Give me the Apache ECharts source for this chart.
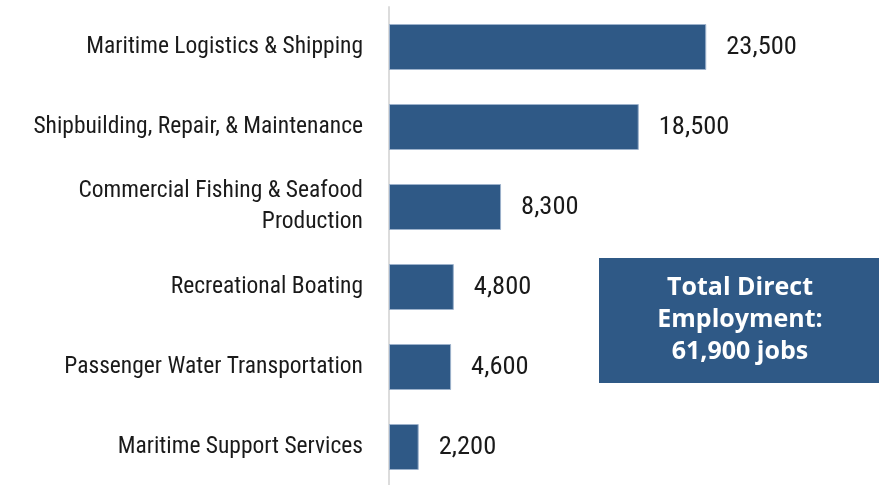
<!DOCTYPE html>
<html>
<head>
<meta charset="utf-8">
<script src="https://cdn.jsdelivr.net/npm/echarts@6/dist/echarts.min.js"></script>
<style>
  html, body { margin: 0; padding: 0; background: #fff; }
  #main { width: 881px; height: 485px; }
</style>
</head>
<body>
<div id="main"></div>
<script>
// categories, top to bottom
var categories = [
  "Maritime Logistics & Shipping",
  "Shipbuilding, Repair, & Maintenance",
  "Commercial Fishing & Seafood\nProduction",
  "Recreational Boating",
  "Passenger Water Transportation",
  "Maritime Support Services"
];
var jobs = [23500, 18500, 8300, 4800, 4600, 2200];
var totalLines = ["Total Direct", "Employment:", "61,900 jobs"];

var barColor = "#2F5986";
var font = '"Roboto Condensed", "Liberation Sans", sans-serif';

var chart = echarts.init(document.getElementById("main"));

var option = {
  animation: false,
  grid: {
    left: 389,
    top: 7,
    width: 405,
    height: 480,
    outerBoundsMode: "none",
    containLabel: false
  },
  xAxis: {
    type: "value",
    min: 0,
    max: 30000,
    show: false
  },
  yAxis: {
    type: "category",
    inverse: true,
    data: categories,
    axisLine: { show: true, lineStyle: { color: "#dcdcdc", width: 2 } },
    axisTick: { show: false },
    axisLabel: {
      margin: 26,
      fontFamily: font,
      fontSize: 23.5,
      lineHeight: 31,
      color: "#1a1a1a",
      align: "right",
      padding: [3, 0, 0, 0]
    }
  },
  series: [
    {
      type: "bar",
      data: jobs,
      barWidth: 46,
      itemStyle: {
        color: barColor,
        borderColor: "#9db2cc",
        borderWidth: 1
      },
      label: {
        show: true,
        position: "right",
        distance: 20,
        fontFamily: font,
        fontSize: 26.5,
        color: "#1a1a1a",
        formatter: function (p) {
          return p.value.toLocaleString("en-US");
        }
      }
    }
  ],
  graphic: [
    {
      type: "rect",
      left: 599,
      top: 258,
      shape: { width: 280, height: 125 },
      style: { fill: barColor }
    },
    {
      type: "text",
      x: 740,
      y: 320,
      style: {
        text: totalLines.join("\n"),
        fill: "#fff",
        font: 'bold 25px "Open Sans", "Lato", sans-serif',
        lineHeight: 32,
        align: "center",
        verticalAlign: "middle"
      }
    }
  ]
};

chart.setOption(option);
</script>
</body>
</html>
